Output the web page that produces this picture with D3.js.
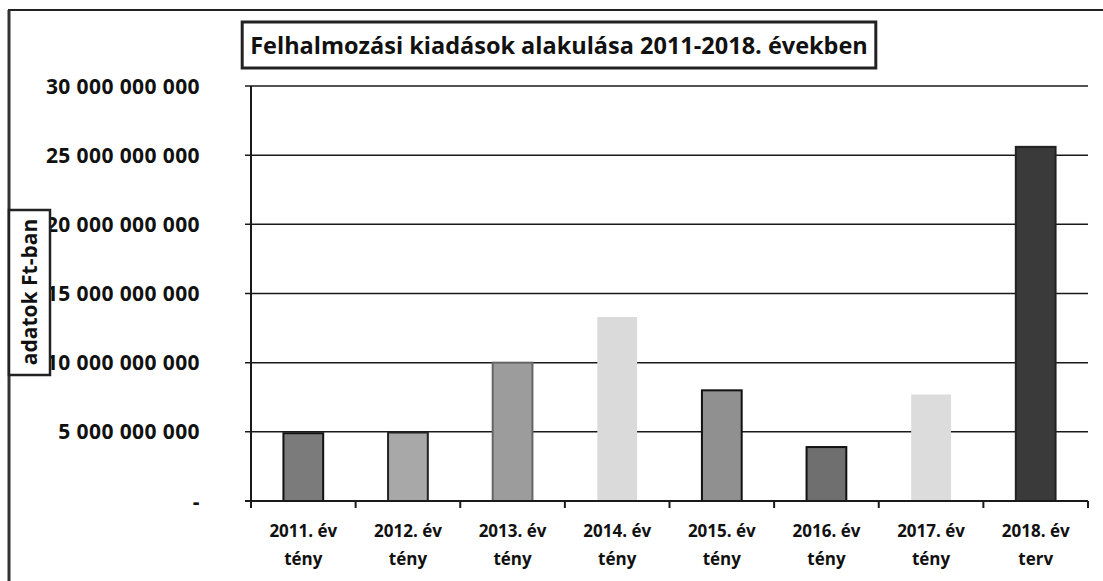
<!DOCTYPE html>
<html>
<head>
<meta charset="utf-8">
<script src="https://cdn.jsdelivr.net/npm/d3@7"></script>
<style>
  body { margin: 0; background: #fff; }
  text { font-family: "Open Sans", sans-serif; font-weight: bold; fill: #111; }
</style>
</head>
<body>
<div id="chart"></div>
<script>
// data
var years = ["2011. év", "2012. év", "2013. év", "2014. év", "2015. év", "2016. év", "2017. év", "2018. év"];
var kinds = ["tény", "tény", "tény", "tény", "tény", "tény", "tény", "terv"];
var values = [4.9e9, 4.95e9, 10.0e9, 13.3e9, 8.0e9, 3.9e9, 7.7e9, 25.6e9];
var yTicks = [0, 5e9, 10e9, 15e9, 20e9, 25e9, 30e9];
var barFills = ["#7b7b7b", "#a8a8a8", "#9c9c9c", "#dadada", "#909090", "#6f6f6f", "#dcdcdc", "#3a3a3a"];
var barStrokes = ["#111", "#222", "#666", "none", "#111", "#111", "none", "#222"];

var margin = { top: 86, right: 15, bottom: 80, left: 251 },
    width = 1103 - margin.left - margin.right,
    height = 581 - margin.top - margin.bottom;

var svgRoot = d3.select("#chart")
    .append("svg")
    .attr("width", 1103)
    .attr("height", 581);

// outer frame (only top and left edges show in the scan)
svgRoot.append("line")
    .attr("x1", 8).attr("x2", 1103).attr("y1", 10).attr("y2", 10)
    .attr("stroke", "#222").attr("stroke-width", 2);
svgRoot.append("line")
    .attr("x1", 9).attr("x2", 9).attr("y1", 10).attr("y2", 581)
    .attr("stroke", "#333").attr("stroke-width", 3);

var svg = svgRoot.append("g")
    .attr("transform", "translate(" + margin.left + "," + margin.top + ")");

var x = d3.scaleBand()
    .domain(years)
    .range([0, width])
    .paddingInner(0.62)
    .paddingOuter(0.31);

var y = d3.scaleLinear()
    .domain([0, 30e9])
    .range([height, 0]);

var fmt = function (d) {
    if (d === 0) return "-";
    return d3.format(",")(d).replace(/,/g, " ");
};

// gridlines
svg.append("g")
    .selectAll("line")
    .data(yTicks.slice(1))
    .enter()
    .append("line")
    .attr("x1", -6)
    .attr("x2", width)
    .attr("y1", function (d) { return y(d); })
    .attr("y2", function (d) { return y(d); })
    .attr("stroke", "#1a1a1a")
    .attr("stroke-width", 1.5);

// y labels
svg.append("g")
    .selectAll("text")
    .data(yTicks)
    .enter()
    .append("text")
    .attr("x", -51)
    .attr("y", function (d) { return y(d); })
    .attr("dy", "0.36em")
    .attr("text-anchor", "end")
    .style("font-size", "21px")
    .style("letter-spacing", "0.4px")
    .text(fmt);

// bars
svg.append("g")
    .selectAll("rect")
    .data(values)
    .enter()
    .append("rect")
    .attr("x", function (d, i) { return x(years[i]); })
    .attr("y", function (d) { return y(d); })
    .attr("width", x.bandwidth())
    .attr("height", function (d) { return height - y(d); })
    .attr("fill", function (d, i) { return barFills[i]; })
    .attr("stroke", function (d, i) { return barStrokes[i]; })
    .attr("stroke-width", 2);

// y axis line
svg.append("line")
    .attr("x1", 0).attr("x2", 0).attr("y1", 0).attr("y2", height + 6)
    .attr("stroke", "#1a1a1a").attr("stroke-width", 2);

// x axis with ticks at band boundaries
svg.append("line")
    .attr("x1", -6).attr("x2", width).attr("y1", height).attr("y2", height)
    .attr("stroke", "#1a1a1a").attr("stroke-width", 2);
var step = x.step();
svg.append("g")
    .selectAll("line")
    .data(d3.range(years.length + 1))
    .enter()
    .append("line")
    .attr("x1", function (i) { return i * step; })
    .attr("x2", function (i) { return i * step; })
    .attr("y1", height)
    .attr("y2", height + 7)
    .attr("stroke", "#1a1a1a").attr("stroke-width", 2);

// x labels, two lines
var xl = svg.append("g")
    .selectAll("text")
    .data(years)
    .enter()
    .append("text")
    .attr("text-anchor", "middle")
    .style("font-size", "17px")
    .attr("transform", function (d) { return "translate(" + (x(d) + x.bandwidth() / 2) + "," + (height + 36) + ")"; });
xl.append("tspan").attr("x", 0).attr("y", 0).text(function (d) { return d; });
xl.append("tspan").attr("x", 0).attr("y", 28).text(function (d, i) { return kinds[i]; });

// y axis title box (covers the first digit of some labels, as in the scan)
svgRoot.append("rect")
    .attr("x", 9).attr("y", 210).attr("width", 41).attr("height", 165)
    .attr("fill", "#fff").attr("stroke", "#222").attr("stroke-width", 2.5);
svgRoot.append("text")
    .attr("transform", "translate(37,292) rotate(-90)")
    .attr("text-anchor", "middle")
    .style("font-size", "21px")
    .text("adatok Ft-ban");

// title box
var tg = svgRoot.append("g");
var tbox = tg.append("rect");
var title = tg.append("text")
    .attr("x", 559).attr("y", 54)
    .attr("text-anchor", "middle")
    .style("font-size", "23.5px")
    .text("Felhalmozási kiadások alakulása 2011-2018. években");
var bb = title.node().getBBox();
tbox.attr("x", bb.x - 8).attr("y", 22)
    .attr("width", bb.width + 16).attr("height", 46)
    .attr("fill", "#fff").attr("stroke", "#222").attr("stroke-width", 3);
</script>
</body>
</html>
